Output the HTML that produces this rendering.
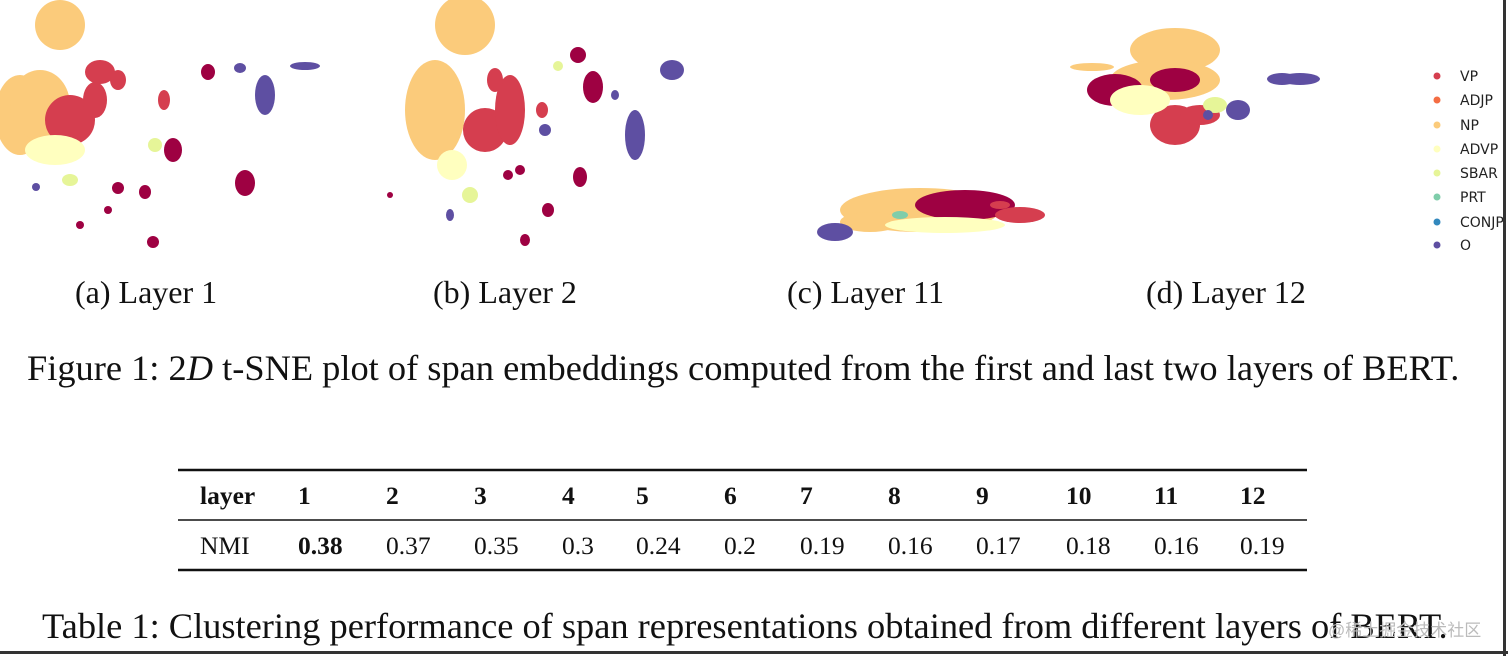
<!DOCTYPE html>
<html><head><meta charset="utf-8"><style>
body{margin:0;width:1508px;height:656px;background:#fff;overflow:hidden;position:relative;font-family:"Liberation Serif",serif;}
.t{position:absolute;white-space:nowrap;color:#111;}
</style></head><body>
<svg id="plots" width="1508" height="270" style="position:absolute;left:0;top:0"></svg>
<div class="t" style="left:75px;top:274px;font-size:32px">(a) Layer 1</div>
<div class="t" style="left:433px;top:274px;font-size:32px">(b) Layer 2</div>
<div class="t" style="left:787px;top:274px;font-size:32px">(c) Layer 11</div>
<div class="t" style="left:1146px;top:274px;font-size:32px">(d) Layer 12</div>
<div class="t" style="left:27px;top:347px;font-size:36.4px">Figure 1: 2<i>D</i> t-SNE plot of span embeddings computed from the first and last two layers of BERT.</div>
<svg id="tbl" width="1508" height="120" style="position:absolute;left:0;top:460px"></svg>
<div class="t" style="left:42px;top:605px;font-size:36.4px">Table 1: Clustering performance of span representations obtained from different layers of BERT.</div>
<div class="t" style="left:1328px;top:616px;font-size:17px;color:#bbb;font-family:'Liberation Sans','Noto Sans CJK SC',sans-serif">@稀土掘金技术社区</div>
<div style="position:absolute;left:1503px;top:0;width:3px;height:656px;background:#333"></div>
<div style="position:absolute;left:0;top:651px;width:1508px;height:3px;background:#333"></div>
<script>
const NS="http://www.w3.org/2000/svg";
const labels=["VP","ADJP","NP","ADVP","SBAR","PRT","CONJP","O"];
const colors=["#d53e4f","#f46d43","#fbcb7b","#ffffbf","#e6f598","#7fcdaa","#3288bd","#5e4fa2"];
const DR="#9e0142";
// blobs: [cx, cy, rx, ry, colorIndex(8 = dark red)]
const blobsA=[[60,25,25,25,2],[20,115,25,40,2],[40,105,30,35,2],[70,120,25,25,0],[55,150,30,15,3],[100,72,15,12,0],[95,100,12,18,0],[118,80,8,10,0],[208,72,7,8,8],[164,100,6,10,0],[173,150,9,12,8],[245,183,10,13,8],[265,95,10,20,7],[240,68,6,5,7],[305,66,15,4,7],[145,192,6,7,8],[118,188,6,6,8],[153,242,6,6,8],[108,210,4,4,8],[80,225,4,4,8],[155,145,7,7,4],[36,187,4,4,7],[70,180,8,6,4]];
const blobsB=[[465,25,30,30,2],[435,110,30,50,2],[485,130,22,22,0],[510,110,15,35,0],[495,80,8,12,0],[542,110,6,8,0],[593,87,10,16,8],[578,55,8,8,8],[558,66,5,5,4],[672,70,12,10,7],[635,135,10,25,7],[615,95,4,5,7],[452,165,15,15,3],[545,130,6,6,7],[520,170,5,5,8],[508,175,5,5,8],[580,177,7,10,8],[548,210,6,7,8],[525,240,5,6,8],[470,195,8,8,4],[450,215,4,6,7],[390,195,3,3,8]];
const blobsC=[[920,210,80,22,2],[965,205,50,15,8],[870,222,30,10,2],[835,232,18,9,7],[945,225,60,8,3],[1020,215,25,8,0],[900,215,8,4,5],[1000,205,10,4,0]];
const blobsD=[[1175,50,45,22,2],[1165,80,55,20,2],[1115,90,28,16,8],[1175,80,25,12,8],[1175,125,25,20,0],[1200,115,20,10,0],[1140,100,30,15,3],[1215,105,12,8,4],[1282,79,15,6,7],[1300,79,20,6,7],[1238,110,12,10,7],[1092,67,22,4,2],[1208,115,5,5,7]];
const legendY=[76,100,125,149,173,197,222,245];
const svg=document.getElementById('plots');
function mk(t,a){const e=document.createElementNS(NS,t);for(const k in a)e.setAttribute(k,a[k]);return e;}
[blobsA,blobsB,blobsC,blobsD].forEach((bl,pi)=>{
 const g=mk('g',{});
 
 
 bl.forEach(b=>{
  const e=mk('ellipse',{cx:b[0],cy:b[1],rx:b[2],ry:b[3],fill:b[4]===8?DR:colors[b[4]]});
  
  
  g.appendChild(e);
 });
 svg.appendChild(g);
});
labels.forEach((l,i)=>{
 const g=mk('g',{});
 
 
 g.appendChild(mk('circle',{cx:1437,cy:legendY[i],r:3.5,fill:colors[i]}));
 const t=mk('text',{x:1460,y:legendY[i]+5,'font-size':14,'font-family':'DejaVu Sans,sans-serif',fill:'#222'});
 t.textContent=l;g.appendChild(t);svg.appendChild(g);
});
// table
const layers=["1","2","3","4","5","6","7","8","9","10","11","12"];
const nmi=["0.38","0.37","0.35","0.3","0.24","0.2","0.19","0.16","0.17","0.18","0.16","0.19"];
const colX=[298,386,474,562,636,724,800,888,976,1066,1154,1240];
const tb=document.getElementById('tbl');
[[10,2.5],[60,1.5],[110,2.5]].forEach((r,i)=>{const l=mk('line',{x1:178,x2:1307,y1:r[0],y2:r[0],stroke:'#111','stroke-width':r[1]});tb.appendChild(l);});
function txt(x,y,s,bold,name){const t=mk('text',{x:x,y:y,'font-size':25.5,'font-family':'Liberation Serif,serif','font-weight':bold?'bold':'normal',fill:'#111'});t.textContent=s;tb.appendChild(t);}
txt(200,44,"layer",true,'header-layer');txt(200,94,"NMI",false,'row-label-nmi');
layers.forEach((l,i)=>{txt(colX[i],44,l,true,'header-'+l);txt(colX[i],94,nmi[i],i===0,'nmi-'+l);});
</script>
</body></html>
